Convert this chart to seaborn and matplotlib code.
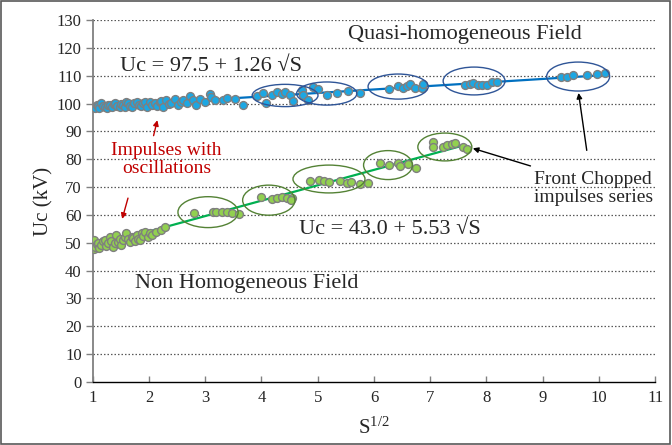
import matplotlib
matplotlib.use("Agg")
import matplotlib.pyplot as plt
import seaborn as sns
import numpy as np
import pandas as pd
from matplotlib.patches import Ellipse, Rectangle

# ---------------- data ----------------
blue_x = [1.02, 1.04, 1.07, 1.09, 1.12, 1.15, 1.18, 1.21, 1.25, 1.28, 1.30, 1.34, 1.37, 1.39, 1.43, 1.48,
          1.51, 1.54, 1.58, 1.60, 1.63, 1.66, 1.69, 1.73, 1.78, 1.82, 1.86, 1.90, 1.93, 1.96, 2.01, 2.05,
          2.10, 2.14, 2.19, 2.22, 2.25, 2.31, 2.35, 2.40, 2.46, 2.52, 2.57, 2.61, 2.67, 2.73, 2.78, 2.84,
          2.90, 2.99, 3.08, 3.11, 3.17, 3.32, 3.38, 3.53, 3.67,
          3.92, 4.03, 4.08, 4.18, 4.27, 4.36, 4.42, 4.50, 4.56, 4.72, 4.74, 4.83, 4.91, 5.00,
          5.16, 5.34, 5.54, 5.75,
          6.27, 6.43, 6.52, 6.58, 6.64, 6.73, 6.85, 6.87,
          7.62, 7.70, 7.76, 7.85, 7.92, 8.01, 8.10, 8.19,
          9.33, 9.43, 9.54, 9.79, 9.97, 10.11]
blue_y = [98.9, 98.3, 99.5, 99.1, 98.4, 100.1, 99.0, 98.9, 98.5, 99.6, 99.5, 98.6, 100.0, 100.1, 99.2, 98.9,
          99.8, 99.5, 98.8, 100.4, 100.1, 99.3, 98.9, 100.3, 100.7, 99.4, 99.0, 100.1, 100.6, 98.9, 100.7, 99.6,
          100.1, 99.3, 100.7, 101.0, 98.9, 101.3, 99.8, 100.1, 101.5, 99.5, 100.6, 101.3, 100.1, 102.6, 101.3, 99.5,
          101.5, 100.7, 103.6, 102.4, 101.3, 101.3, 101.9, 101.5, 99.5,
          102.8, 103.8, 100.2, 103.0, 104.1, 103.4, 104.0, 103.0, 101.0, 104.8, 103.0, 101.3, 105.9, 105.2,
          103.0, 103.7, 104.6, 103.8,
          105.4, 106.3, 105.5, 106.3, 107.0, 105.5, 105.6, 107.0,
          106.6, 107.0, 107.3, 106.6, 106.8, 106.6, 107.8, 107.7,
          109.6, 109.5, 110.2, 110.2, 110.6, 111.1]

green_x = [1.02, 1.03, 1.04, 1.07, 1.09, 1.12, 1.15, 1.18, 1.21, 1.24, 1.27, 1.30, 1.33, 1.36, 1.39, 1.42,
           1.45, 1.48, 1.51, 1.54, 1.57, 1.60, 1.63, 1.66, 1.69, 1.72, 1.75, 1.78, 1.81, 1.84, 1.87, 1.90,
           1.93, 1.98, 2.01, 2.06, 2.13, 2.22, 2.28,
           2.80, 3.13, 3.20, 3.29, 3.38, 3.47, 3.60,
           3.99, 4.18, 4.27, 4.36, 4.45, 4.54, 4.52,
           4.86, 5.02, 5.11, 5.20, 5.39, 5.52, 5.60, 5.75, 5.89,
           6.11, 6.27, 6.43, 6.46, 6.60, 6.75,
           7.05, 7.05, 7.23, 7.30, 7.39, 7.44, 7.58, 7.65]
green_y = [51.0, 47.8, 48.6, 49.5, 50.0, 48.3, 49.2, 50.6, 51.0, 48.9, 49.8, 52.2, 50.8, 48.6, 50.0, 52.8,
           50.4, 51.5, 49.2, 50.9, 52.2, 53.4, 51.2, 50.4, 52.0, 51.6, 50.6, 52.8, 51.4, 51.0, 53.4, 52.4,
           54.0, 52.2, 53.4, 52.8, 54.0, 54.6, 55.5,
           60.8, 61.2, 61.0, 61.0, 61.0, 60.8, 60.5,
           66.5, 65.7, 66.0, 66.4, 66.0, 66.0, 65.3,
           72.3, 72.4, 72.2, 71.8, 72.2, 71.5, 71.8, 71.1, 71.5,
           78.7, 78.0, 78.6, 77.5, 78.3, 76.7,
           86.3, 84.5, 84.4, 85.1, 85.5, 85.8, 84.4, 83.7]

# fitted lines  Uc = a + b*sqrt(S)
blue_fit = (97.5, 1.26, 1.0, 10.1)
green_fit = (43.0, 5.53, 1.0, 7.58)

# ellipses (centre x, centre y, width, height)
blue_ell = [(4.42, 102.9, 1.17, 8.0), (5.16, 103.6, 1.07, 8.3), (6.43, 106.1, 1.07, 9.0),
            (7.78, 108.1, 1.10, 10.0), (9.63, 109.7, 1.12, 10.4)]
green_ell = [(3.05, 61.0, 1.07, 11.1), (4.13, 65.3, 0.93, 10.8), (5.20, 72.9, 1.28, 10.0),
             (6.25, 77.9, 0.87, 10.4), (7.26, 84.4, 0.96, 10.0)]

x_ticks = list(range(1, 12))
y_ticks = list(range(0, 131, 10))

# ---------------- plot ----------------
sns.set_theme(style="white")
plt.rcParams['font.family'] = ['Liberation Serif', 'DejaVu Serif']
plt.rcParams['mathtext.fontset'] = 'custom'
plt.rcParams['mathtext.rm'] = 'Liberation Serif'
plt.rcParams['mathtext.it'] = 'Liberation Serif:italic'
plt.rcParams['mathtext.bf'] = 'Liberation Serif:bold'

fig = plt.figure(figsize=(6.72, 4.45), dpi=100)
ax = fig.add_axes([0.138, 0.1416, 0.837, 0.8134])

# fit lines
for (a, b, x0, x1), col in [(blue_fit, "#0070C0"), (green_fit, "#00B050")]:
    xs = np.linspace(x0, x1, 50)
    sns.lineplot(x=xs, y=a + b * xs, ax=ax, color=col, lw=1.6, zorder=3)

sns.scatterplot(x=blue_x, y=blue_y, ax=ax, s=32, color="#1CA7E3", edgecolor="#7F7F7F",
                linewidth=1.0, zorder=4)
sns.scatterplot(x=green_x, y=green_y, ax=ax, s=32, color="#92D050", edgecolor="#7F7F7F",
                linewidth=1.0, zorder=4)

for cx, cy, w, h in blue_ell:
    ax.add_patch(Ellipse((cx, cy), w, h, fill=False, ec="#2F5597", lw=1.0, zorder=5))
for cx, cy, w, h in green_ell:
    ax.add_patch(Ellipse((cx, cy), w, h, fill=False, ec="#548235", lw=1.0, zorder=5))

ax.set_xlim(1, 11)
ax.set_ylim(0, 130)
ax.set_xticks(x_ticks)
ax.set_yticks(y_ticks)
ax.set_xticklabels([str(t) for t in x_ticks], fontsize=12)
ax.set_yticklabels([str(t) for t in y_ticks], fontsize=12)

for y in y_ticks[1:]:
    ax.axhline(y, color="#595959", lw=0.9, ls=(0, (1.2, 1.6)), zorder=1)

for s in ["top", "right"]:
    ax.spines[s].set_visible(False)
ax.spines["left"].set_color("#808080")
ax.spines["left"].set_linewidth(1.3)
ax.spines["bottom"].set_color("black")
ax.spines["bottom"].set_linewidth(1.0)
ax.tick_params(axis="y", direction="out", length=5, width=1, color="#808080", pad=3, left=True)
ax.tick_params(axis="x", direction="in", length=4, width=1, color="#808080", pad=6, bottom=True)

ax.set_ylabel("Uc (kV)", fontsize=15, labelpad=2)
ax.set_xlabel("S$^{\\mathrm{1/2}}$", fontsize=15, labelpad=8)

# text annotations
ax.text(7.62, 124.8, "Quasi-homogeneous Field", fontsize=16, ha="center", va="center")
ax.text(1.48, 113.3, "Uc = 97.5 + 1.26 \u221aS", fontsize=16, ha="left", va="center")
ax.text(4.67, 54.8, "Uc = 43.0 + 5.53 \u221aS", fontsize=16, ha="left", va="center")
ax.text(1.75, 35.2, "Non Homogeneous Field", fontsize=16, ha="left", va="center")
ax.text(2.31, 80.0, "Impulses with\noscillations", fontsize=14, ha="center", va="center",
        color="#C00000", linespacing=1.1)
ax.text(8.85, 69.5, "Front Chopped\nimpulses series", fontsize=14, ha="left", va="center",
        linespacing=1.1)

# arrows
ax.annotate("", xy=(2.16, 95.0), xytext=(2.07, 87.5),
            arrowprops=dict(arrowstyle="-|>", color="#C00000", lw=1.0, mutation_scale=8))
ax.annotate("", xy=(1.51, 57.6), xytext=(1.64, 67.0),
            arrowprops=dict(arrowstyle="-|>", color="#C00000", lw=1.0, mutation_scale=8))
ax.annotate("", xy=(7.71, 84.2), xytext=(8.83, 77.3),
            arrowprops=dict(arrowstyle="-|>", color="black", lw=1.0, mutation_scale=8))
ax.annotate("", xy=(9.63, 104.8), xytext=(9.79, 82.2),
            arrowprops=dict(arrowstyle="-|>", color="black", lw=1.0, mutation_scale=8))

# chart border
fig.patches.append(Rectangle((0.002, 0.003), 0.995, 0.994, transform=fig.transFigure,
                             fill=False, ec="#595959", lw=1.2))

fig.savefig("out.png", dpi=100)
